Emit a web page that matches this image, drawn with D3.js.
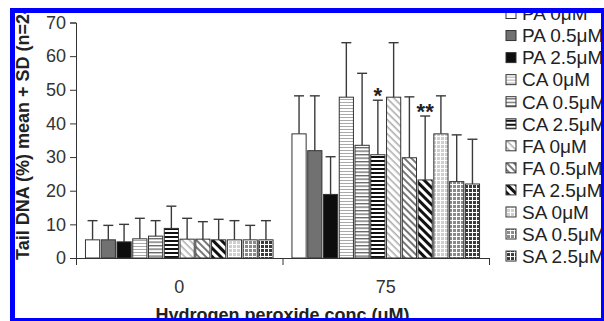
<!DOCTYPE html>
<html>
<head>
<meta charset="utf-8">
<script src="https://cdn.jsdelivr.net/npm/d3@7"></script>
<style>
	body { margin: 0; background: #fff; }
	text { font-family: "Liberation Sans", Arial, sans-serif; }
</style>
</head>
<body>
<svg id="chart" width="604" height="321"></svg>
<script>
	// categories on the x axis
	var groups = ["0", "75"];
	// series (treatments), also the legend labels
	var series = ["PA 0μM", "PA 0.5μM", "PA 2.5μM", "CA 0μM", "CA 0.5μM", "CA 2.5μM",
		"FA 0μM", "FA 0.5μM", "FA 2.5μM", "SA 0μM", "SA 0.5μM", "SA 2.5μM"];
	// mean tail DNA (%) per series, one array per category
	var mean0 = [5.4, 5.4, 4.8, 5.7, 6.5, 8.8, 5.6, 5.6, 5.4, 5.4, 5.4, 5.4];
	var mean75 = [36.9, 31.9, 18.9, 47.8, 33.5, 30.7, 47.8, 29.8, 23.2, 36.9, 22.7, 22.0];
	// SD per series
	var sd0 = [5.7, 4.3, 5.2, 6.1, 4.6, 6.6, 6.2, 5.2, 6.1, 5.7, 4.3, 5.7];
	var sd75 = [11.3, 16.3, 11.2, 16.2, 21.4, 16.2, 16.2, 18.1, 19.0, 11.3, 13.9, 13.3];
	// significance marks in the 75 group
	var marks75 = ["", "", "", "", "", "*", "", "", "**", "", "", ""];
	var yTicks = [0, 10, 20, 30, 40, 50, 60, 70];

	var svg = d3.select("#chart");

	// fill patterns for the bars
	var defs = svg.append("defs");

	function stripes(id, bg, color, period, w, angle) {
		var p = defs.append("pattern")
			.attr("id", id)
			.attr("patternUnits", "userSpaceOnUse")
			.attr("width", period)
			.attr("height", period);
		if (angle) p.attr("patternTransform", "rotate(" + angle + ")");
		p.append("rect").attr("width", period).attr("height", period).attr("fill", bg);
		p.append("rect").attr("y", 0).attr("width", period).attr("height", w).attr("fill", color);
	}

	function grid(id, bg, color, period, w) {
		var p = defs.append("pattern")
			.attr("id", id)
			.attr("patternUnits", "userSpaceOnUse")
			.attr("width", period)
			.attr("height", period);
		p.append("rect").attr("width", period).attr("height", period).attr("fill", bg);
		p.append("rect").attr("width", period).attr("height", w).attr("fill", color);
		p.append("rect").attr("width", w).attr("height", period).attr("fill", color);
	}

	stripes("ca0", "#fff", "#aaa", 3, 1, 0);
	stripes("ca05", "#fff", "#666", 3.5, 1.3, 0);
	stripes("ca25", "#fff", "#111", 4, 2, 0);
	stripes("fa0", "#fff", "#b0b0b0", 5, 1.6, 45);
	stripes("fa05", "#fff", "#777", 5, 2, 45);
	stripes("fa25", "#fff", "#111", 6, 3, 45);
	grid("sa0", "#cfcfcf", "#fff", 4, 1);
	grid("sa05", "#8a8a8a", "#fff", 4, 1);
	grid("sa25", "#3a3a3a", "#fff", 4, 1);

	var fills = ["#fff", "#717171", "#0d0d0d", "url(#ca0)", "url(#ca05)", "url(#ca25)",
		"url(#fa0)", "url(#fa05)", "url(#fa25)", "url(#sa0)", "url(#sa05)", "url(#sa25)"];

	// scales
	var x0 = d3.scaleBand().domain(groups).range([76, 489]).padding(0);
	var x1 = d3.scaleBand().domain(series).range([0, x0.bandwidth()])
		.paddingInner(0.1).paddingOuter(0.6);
	var y = d3.scaleLinear().domain([0, 70]).range([258, 22.5]);
	var xEdge = d3.scaleLinear().domain([0, 2]).range([76, 489]);

	var data = [];
	groups.forEach(function(g, gi) {
		var m = gi === 0 ? mean0 : mean75;
		var s = gi === 0 ? sd0 : sd75;
		series.forEach(function(name, si) {
			data.push({
				group: g, name: name, idx: si, mean: m[si], sd: s[si],
				mark: gi === 0 ? "" : marks75[si]
			});
		});
	});

	function cx(d) {
		return x0(d.group) + x1(d.name) + x1.bandwidth() / 2;
	}

	// error bars (drawn first, the bar covers the lower part)
	var err = svg.append("g").attr("stroke", "#3a3a3a").attr("stroke-width", 1.4);
	err.selectAll("line.v").data(data).enter().append("line")
		.attr("class", "v")
		.attr("x1", cx).attr("x2", cx)
		.attr("y1", function(d) { return y(d.mean); })
		.attr("y2", function(d) { return y(d.mean + d.sd); });
	err.selectAll("line.c").data(data).enter().append("line")
		.attr("class", "c")
		.attr("x1", function(d) { return cx(d) - 5; })
		.attr("x2", function(d) { return cx(d) + 5; })
		.attr("y1", function(d) { return y(d.mean + d.sd); })
		.attr("y2", function(d) { return y(d.mean + d.sd); });

	// bars
	svg.append("g").selectAll("rect").data(data).enter().append("rect")
		.attr("x", function(d) { return x0(d.group) + x1(d.name); })
		.attr("y", function(d) { return y(d.mean); })
		.attr("width", x1.bandwidth())
		.attr("height", function(d) { return y(0) - y(d.mean); })
		.attr("fill", function(d) { return fills[d.idx]; })
		.attr("stroke", "#333")
		.attr("stroke-width", 1);

	// significance stars
	svg.append("g").selectAll("text").data(data.filter(function(d) { return d.mark; }))
		.enter().append("text")
		.attr("x", cx)
		.attr("y", function(d) { return y(d.mean + d.sd) + 3; })
		.attr("text-anchor", "middle")
		.attr("font-size", 22)
		.attr("font-weight", "bold")
		.attr("fill", "#222")
		.text(function(d) { return d.mark; });

	// y axis
	var yAxis = svg.append("g")
		.attr("transform", "translate(76,0)")
		.call(d3.axisLeft(y).tickValues(yTicks).tickSize(6).tickPadding(4));
	yAxis.selectAll("text").attr("font-size", 18).attr("fill", "#333").attr("font-family", null);
	yAxis.selectAll("line, path").attr("stroke", "#333");

	// x axis line with ticks at category edges
	var xAxis = svg.append("g")
		.attr("transform", "translate(0,258)")
		.call(d3.axisBottom(xEdge).tickValues([0, 1, 2]).tickSize(7).tickSizeOuter(0).tickFormat(""));
	xAxis.selectAll("line, path").attr("stroke", "#333");

	// category labels
	var xLabels = svg.append("g")
		.attr("transform", "translate(0,258)")
		.call(d3.axisBottom(x0).tickSize(0).tickPadding(22));
	xLabels.select(".domain").remove();
	xLabels.selectAll("text").attr("font-size", 18).attr("fill", "#333").attr("font-family", null);

	// axis titles (cropped by the frame, as in the source figure)
	svg.append("text")
		.attr("x", 282.5)
		.attr("y", 321)
		.attr("text-anchor", "middle")
		.attr("font-size", 18)
		.attr("font-weight", "bold")
		.attr("fill", "#222")
		.text("Hydrogen peroxide conc (uM)");

	svg.append("text")
		.attr("transform", "translate(28.5,260) rotate(-90)")
		.attr("font-size", 18)
		.attr("font-weight", "bold")
		.attr("fill", "#222")
		.text("Tail DNA (%) mean + SD (n=24)");

	// legend
	var legend = svg.append("g").selectAll("g").data(series).enter().append("g")
		.attr("transform", function(d, i) { return "translate(506," + (13.5 + i * 22.05) + ")"; });
	legend.append("rect")
		.attr("x", 0).attr("y", -5)
		.attr("width", 10).attr("height", 10)
		.attr("fill", function(d, i) { return fills[i]; })
		.attr("stroke", "#333")
		.attr("stroke-width", 1);
	legend.append("text")
		.attr("x", 16)
		.attr("dy", "0.36em")
		.attr("font-size", 19)
		.attr("fill", "#222")
		.text(function(d) { return d; });

	// blue frame of the cropped figure
	var frame = svg.append("g").attr("fill", "#0000ff");
	frame.append("rect").attr("x", 10).attr("y", 8).attr("width", 594).attr("height", 5);
	frame.append("rect").attr("x", 10).attr("y", 8).attr("width", 5).attr("height", 313);
	frame.append("rect").attr("x", 601).attr("y", 8).attr("width", 3).attr("height", 313);
	frame.append("rect").attr("x", 10).attr("y", 318).attr("width", 594).attr("height", 3);
	// white margin outside the frame
	svg.append("rect").attr("x", 0).attr("y", 0).attr("width", 604).attr("height", 8).attr("fill", "#fff");
	svg.append("rect").attr("x", 0).attr("y", 0).attr("width", 10).attr("height", 321).attr("fill", "#fff");
</script>
</body>
</html>
